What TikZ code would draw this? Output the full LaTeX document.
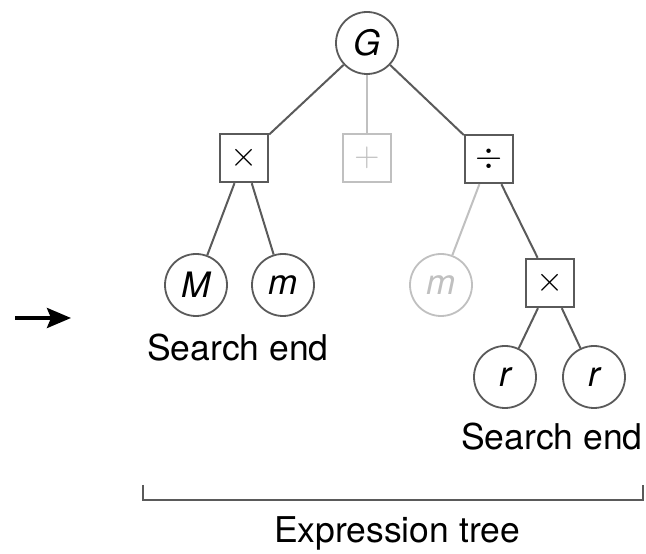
\documentclass[tikz,border=0pt]{standalone}
\usepackage{fontspec}
\setmainfont{TeX Gyre Heros}
\usetikzlibrary{arrows.meta, positioning, calc}
\definecolor{EdgeGray}{RGB}{90,90,90}
\definecolor{FadeGray}{RGB}{192,192,192}
\newcommand{\opsym}[1]{\scalebox{1.4}{$#1$}}
\tikzset{
  every node/.style={font=\fontsize{34}{40}\selectfont},
  edge/.style={line width=2pt, EdgeGray},
  fadeedge/.style={line width=2pt, FadeGray},
  leaf/.style={draw=EdgeGray, line width=1.8pt, circle, fill=white,
               minimum size=62pt, inner sep=0pt, font=\fontsize{35}{40}\selectfont\itshape},
  opbox/.style={draw=EdgeGray, line width=2.4pt, rectangle, fill=white,
                minimum size=48pt, inner sep=0pt},
  fadeleaf/.style={leaf, draw=FadeGray, text=FadeGray},
  fadebox/.style={opbox, draw=FadeGray, text=FadeGray, line width=2pt},
  caption/.style={font=\fontsize{35.5}{42}\selectfont}
}
\begin{document}
\begin{tikzpicture}[x=1pt,y=1pt]
\useasboundingbox (0,0) rectangle (646,554);

% Pointer into the tree
\node (from) at (15,236) {};
\node (to) at (71,236) {};
\draw[-{Stealth[length=24pt,width=20pt,inset=4pt]}, line width=3.6pt, black]
  (from.center) -- (to.center);

% Expression tree nodes
\node[leaf] (g) at (367,511) {G};
\node[opbox] (mul) at (244,396) {\opsym{\times}};
\node[fadebox] (add) at (367,396) {\opsym{+}};
\node[opbox] (div) at (489,395) {\opsym{\div}};
\node[leaf] (bigm) at (196,269) {M};
\node[leaf] (smallm) at (283,269) {m};
\node[fadeleaf] (fadem) at (441,269) {m};
\node[opbox] (mul2) at (550,271) {\opsym{\times}};
\node[leaf] (ra) at (505,177) {r};
\node[leaf] (rb) at (594,177) {r};

% Edges
\draw[edge] (g) -- (mul);
\draw[fadeedge] (g) -- (add);
\draw[edge] (g) -- (div);
\draw[edge] (mul) -- (bigm);
\draw[edge] (mul) -- (smallm);
\draw[fadeedge] (div) -- (fadem);
\draw[edge] (div) -- (mul2);
\draw[edge] (mul2) -- (ra);
\draw[edge] (mul2) -- (rb);

% Labels under the searched branches
\node[caption] (endl) at (238,206) {Search end};
\node[caption] (endr) at (552,117) {Search end};

% Bracket spanning the tree
\coordinate (bl) at (143,54);
\coordinate (br) at (643,54);
\draw[line width=1.6pt, EdgeGray] ($(bl)+(0,15)$) -- (bl) -- (br) -- ($(br)+(0,15)$);
\node[caption] (title) at (397,21) {Expression tree};

\end{tikzpicture}
\end{document}
